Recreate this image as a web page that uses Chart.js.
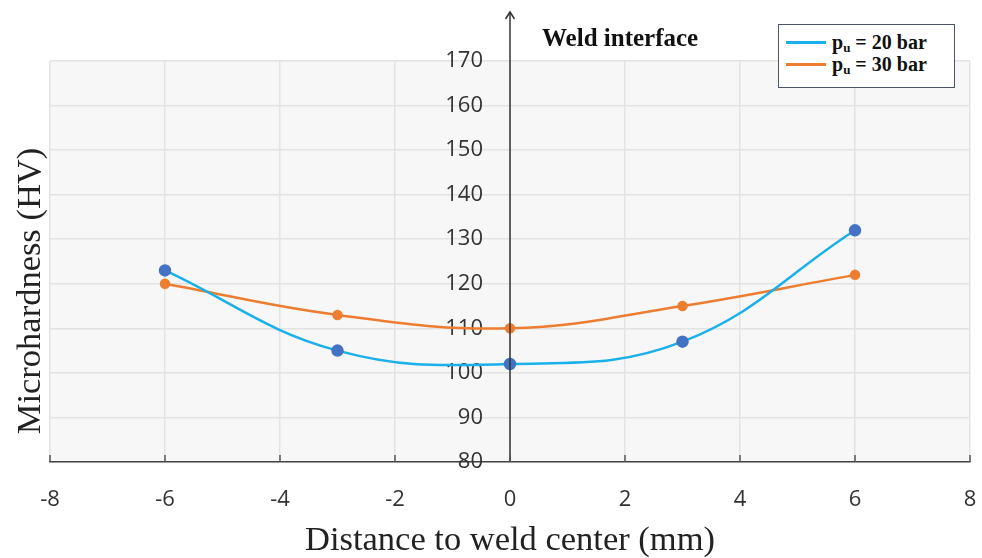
<!DOCTYPE html>
<html>
<head>
<meta charset="utf-8">
<script src="https://cdn.jsdelivr.net/npm/chart.js@4.4.1/dist/chart.umd.min.js"></script>
<style>
  html, body { margin: 0; padding: 0; background: #fff; }
  #wrap { position: relative; width: 982px; height: 558px; }
  #legend {
    position: absolute; left: 778px; top: 24px; width: 175px; height: 62px;
    border: 1.5px solid #4b5568; background: #fff;
    font-family: "Liberation Serif", "Times New Roman", serif; font-weight: bold; font-size: 20px; color: #111;
  }
  .row { position: absolute; left: 7px; height: 20px; line-height: 20px; white-space: nowrap; }
  .row span.ln { display: inline-block; width: 40px; height: 3px; vertical-align: middle; margin-right: 6px; position: relative; top: -2px; }
  .row sub { font-size: 13px; vertical-align: -3px; line-height: 0; }
  #weld {
    position: absolute; left: 542px; top: 24px;
    font-family: "Liberation Serif", "Times New Roman", serif; font-weight: bold; font-size: 25px; color: #111;
  }
</style>
</head>
<body>
<div id="wrap">
  <canvas id="chart" width="982" height="558"></canvas>
  <div id="weld">Weld interface</div>
  <div id="legend">
    <div class="row" style="top:7px"><span class="ln" style="background:#1AB0EA"></span>p<sub>u</sub> = 20 bar</div>
    <div class="row" style="top:29px"><span class="ln" style="background:#ED7D31"></span>p<sub>u</sub> = 30 bar</div>
  </div>
</div>
<script>
const distances = [-6, -3, 0, 3, 6];
const hardness20 = [123, 105, 102, 107, 132];
const hardness30 = [120, 113, 110, 115, 122];
const xTicks = [-8, -6, -4, -2, 0, 2, 4, 6, 8];
const yTitle = 'Microhardness (HV)';
const xTitle = 'Distance to weld center (mm)';

function toPoints(xs, ys) {
  return xs.map((x, i) => ({ x: x, y: ys[i] }));
}

// plot background, y arrow, small x ticks, y title
const decor = {
  id: 'decor',
  beforeDraw(chart) {
    const { ctx, chartArea } = chart;
    ctx.save();
    ctx.fillStyle = '#F7F7F7';
    ctx.fillRect(chartArea.left, chartArea.top, chartArea.right - chartArea.left, chartArea.bottom - chartArea.top);
    ctx.restore();
  },
  afterDraw(chart) {
    const { ctx, chartArea, scales } = chart;
    const x0 = scales.x.getPixelForValue(0);
    ctx.save();
    ctx.strokeStyle = '#333';
    ctx.lineWidth = 1.5;
    ctx.beginPath();
    ctx.moveTo(x0, chartArea.bottom);
    ctx.lineTo(x0, 12);
    ctx.stroke();
    ctx.beginPath();
    ctx.moveTo(x0 - 4.5, 19);
    ctx.lineTo(x0, 12);
    ctx.lineTo(x0 + 4.5, 19);
    ctx.stroke();
    // x tick marks inside plot
    ctx.strokeStyle = '#555';
    xTicks.forEach(v => {
      const px = scales.x.getPixelForValue(v);
      ctx.beginPath();
      ctx.moveTo(px, chartArea.bottom);
      ctx.lineTo(px, chartArea.bottom - 7);
      ctx.stroke();
    });
    ctx.fillStyle = '#222';
    ctx.font = '34.5px "Liberation Serif", "Times New Roman", serif';
    ctx.textAlign = 'center';
    ctx.textBaseline = 'middle';
    ctx.translate(31, 291);
    ctx.rotate(-Math.PI / 2);
    ctx.fillText(yTitle, 0, 0);
    ctx.restore();
  }
};

new Chart(document.getElementById('chart'), {
  type: 'line',
  data: {
    datasets: [
      {
        label: 'pu = 20 bar',
        data: toPoints(distances, hardness20),
        borderColor: '#1AB0EA',
        backgroundColor: '#4472C4',
        pointBackgroundColor: '#4472C4',
        pointBorderColor: '#4472C4',
        pointRadius: 5,
        borderWidth: 2.5,
        tension: 0.4
      },
      {
        label: 'pu = 30 bar',
        data: toPoints(distances, hardness30),
        borderColor: '#ED7D31',
        backgroundColor: '#ED7D31',
        pointBackgroundColor: '#ED7D31',
        pointBorderColor: '#ED7D31',
        pointRadius: 4,
        borderWidth: 2.5,
        tension: 0.4
      }
    ]
  },
  options: {
    responsive: false,
    animation: false,
    layout: { padding: { left: 50, right: 12, top: 61, bottom: 0 } },
    plugins: { legend: { display: false }, tooltip: { enabled: false } },
    scales: {
      x: {
        type: 'linear',
        min: -8, max: 8,
        afterBuildTicks(scale) { scale.ticks = xTicks.map(v => ({ value: v })); },
        afterFit(scale) {
          scale.height = 96;
          scale.paddingLeft = 0;
          scale.paddingRight = 0;
        },
        grid: { color: '#E3E3E3', lineWidth: 1.5, drawTicks: false },
        border: { color: '#444', width: 1.5 },
        ticks: { padding: 25, color: '#333', font: { family: '"Open Sans", sans-serif', size: 22 } },
        title: {
          display: true, text: xTitle, color: '#222', padding: { top: 4, bottom: 0 },
          font: { family: '"Liberation Serif", "Times New Roman", serif', size: 34.5, lineHeight: 1 }
        }
      },
      y: {
        // labels sit just left of the weld-interface line, which is drawn in the plugin
        position: { x: -0.47 },
        min: 80, max: 170,
        afterFit(scale) {
          scale.paddingLeft = 0;
          scale.paddingRight = 0;
        },
        ticks: { stepSize: 10, color: '#333', font: { family: '"Open Sans", sans-serif', size: 22 } },
        grid: { color: '#E3E3E3', lineWidth: 1.5, drawTicks: false },
        border: { display: false }
      }
    }
  },
  plugins: [decor]
});
</script>
</body>
</html>
